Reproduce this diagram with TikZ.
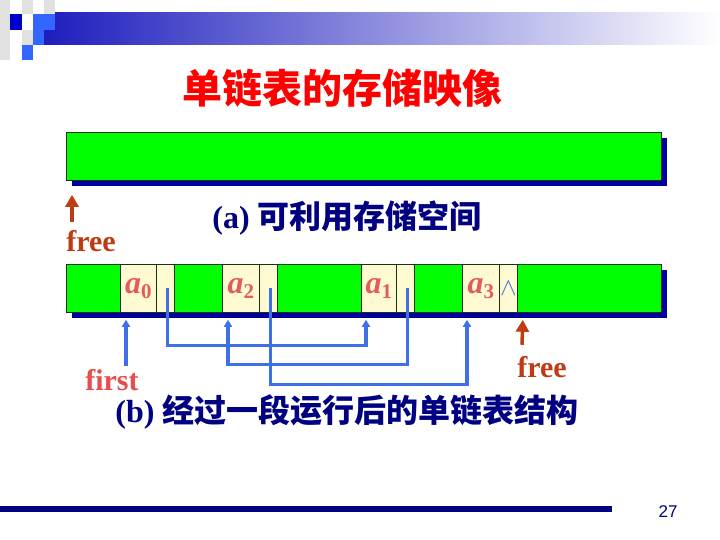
\documentclass[tikz,border=0pt]{standalone}
\usepackage{fontspec}
\setmainfont{Liberation Serif}
\setsansfont{Liberation Sans}
\newfontfamily\cjk{Noto Sans CJK SC}
\usetikzlibrary{
    arrows.meta,
    shadows
}
\definecolor{PoolGreen}{RGB}{0,255,0}
\definecolor{ShadowBlue}{RGB}{0,0,160}
\definecolor{CellCream}{RGB}{255,250,210}
\definecolor{CellLine}{RGB}{20,50,20}
\definecolor{LinkBlue}{RGB}{64,112,232}
\definecolor{FreeRed}{RGB}{190,60,20}
\definecolor{FirstRed}{RGB}{232,76,76}
\definecolor{LabelRed}{RGB}{226,92,92}
\definecolor{TitleRed}{RGB}{255,0,0}
\definecolor{CapNavy}{RGB}{0,0,128}
\definecolor{BarBlue}{RGB}{30,30,190}
\definecolor{LogoBlue}{RGB}{51,102,255}
\definecolor{LogoDark}{RGB}{0,0,204}
\definecolor{LogoGray}{RGB}{225,225,225}
\newcommand{\aelem}[1]{\textit{a}\raisebox{-5pt}{\fontsize{21pt}{21pt}\selectfont #1}}
\tikzset{
  area/.style    = {draw=CellLine, fill=PoolGreen, line width=0.8pt,
                    anchor=north west, minimum height=48pt, inner sep=0pt,
                    drop shadow={opacity=1, fill=ShadowBlue,
                                 shadow xshift=6pt, shadow yshift=-6pt}},
  cell/.style    = {draw=CellLine, fill=CellCream, line width=0.8pt,
                    anchor=north west, minimum height=48pt, inner sep=0pt,
                    text=LabelRed, font=\fontsize{32pt}{34pt}\selectfont\bfseries},
  link/.style    = {-{Triangle[length=7pt,width=8pt]}, line width=3.5pt, LinkBlue},
  freearr/.style = {-{Triangle[length=12pt,width=13pt]}, line width=3.5pt, FreeRed}
}

\begin{document}
\begin{tikzpicture}[
    x=1pt, y=-1pt,
    title/.style={font=\fontsize{40pt}{44pt}\selectfont\bfseries\cjk, text=TitleRed},
    caption/.style={font=\fontsize{32pt}{36pt}\selectfont\bfseries, text=CapNavy},
    ptr/.style={font=\fontsize{30pt}{34pt}\selectfont\bfseries}
  ]
    \useasboundingbox (0,0) rectangle (720,540);

    % header bar and logo
    \shade[left color=BarBlue, middle color=BarBlue!45, right color=white] (44,13) rectangle (720,45);
    \fill[LogoGray] (0,0) rectangle (10,60);
    \fill[LogoGray] (22,0) rectangle (33,14);
    \fill[LogoGray] (44,0) rectangle (55,14);
    \fill[LogoGray] (22,30) rectangle (33,45);
    \fill[LogoDark] (10,14) rectangle (22,30);
    \fill[LogoBlue] (33,14) rectangle (55,30);
    \fill[LogoBlue] (33,30) rectangle (44,45);
    \fill[LogoBlue] (22,45) rectangle (33,60);

    \node[title] (title) at (342,88) {单链表的存储映像};

    % (a)
    \node[area, minimum width=595pt] (pool) at (66,132) {};
    \node[ptr, text=FreeRed] (free1) at (91,241) {free};
    \draw[freearr] ([xshift=-19pt,yshift=5pt]free1.north) -- ([xshift=6pt,yshift=-14pt]pool.south west);
    \node[caption] (capa) at (347,218) {(a) {\cjk 可利用存储空间}};

    % (b)
    \node[area, minimum width=595pt] (mem) at (66,264) {};
    \node[cell, minimum width=36pt] (a0) at (120,264) {\aelem{0}};
    \node[cell, minimum width=18pt] (p0) at (156,264) {};
    \node[cell, minimum width=37pt] (a2) at (222,264) {\aelem{2}};
    \node[cell, minimum width=18pt] (p2) at (259,264) {};
    \node[cell, minimum width=35pt] (a1) at (361,264) {\aelem{1}};
    \node[cell, minimum width=18pt] (p1) at (396,264) {};
    \node[cell, minimum width=37pt] (a3) at (462,264) {\aelem{3}};
    \node[cell, minimum width=18pt, text=LinkBlue, font=\fontsize{30pt}{32pt}\selectfont] (p3) at (499,264) {$\wedge$};

    \coordinate (in0) at ([xshift=6pt,yshift=-7pt]a0.south west);
    \coordinate (in2) at ([xshift=6pt,yshift=-7pt]a2.south west);
    \coordinate (in1) at ([xshift=5pt,yshift=-7pt]a1.south west);
    \coordinate (in3) at ([xshift=5pt,yshift=-7pt]a3.south west);

    \draw[link] ([xshift=2pt]p0.center) -- ++(0,57) -| (in1);
    \draw[link] ([xshift=2pt]p1.center) -- ++(0,76) -| (in2);
    \draw[link] ([xshift=2pt]p2.center) -- ++(0,96) -| (in3);

    \node[ptr, text=FirstRed] (first) at (112,380) {first};
    \draw[link] (in0 |- first.north) -- (in0);

    \node[ptr, text=FreeRed] (free2) at (542,367) {free};
    \draw[freearr] ([xshift=-20pt,yshift=8pt]free2.north) -- ([xshift=5pt,yshift=-7pt]p3.south east);

    \node[caption] (capb) at (347,412) {(b) {\cjk 经过一段运行后的单链表结构}};

    % footer
    \fill[CapNavy] (0,506) rectangle (612,512);
    \node[font=\sffamily\fontsize{17pt}{17pt}\selectfont, text=CapNavy] (page) at (668,512) {27};
  \end{tikzpicture}
\end{document}
